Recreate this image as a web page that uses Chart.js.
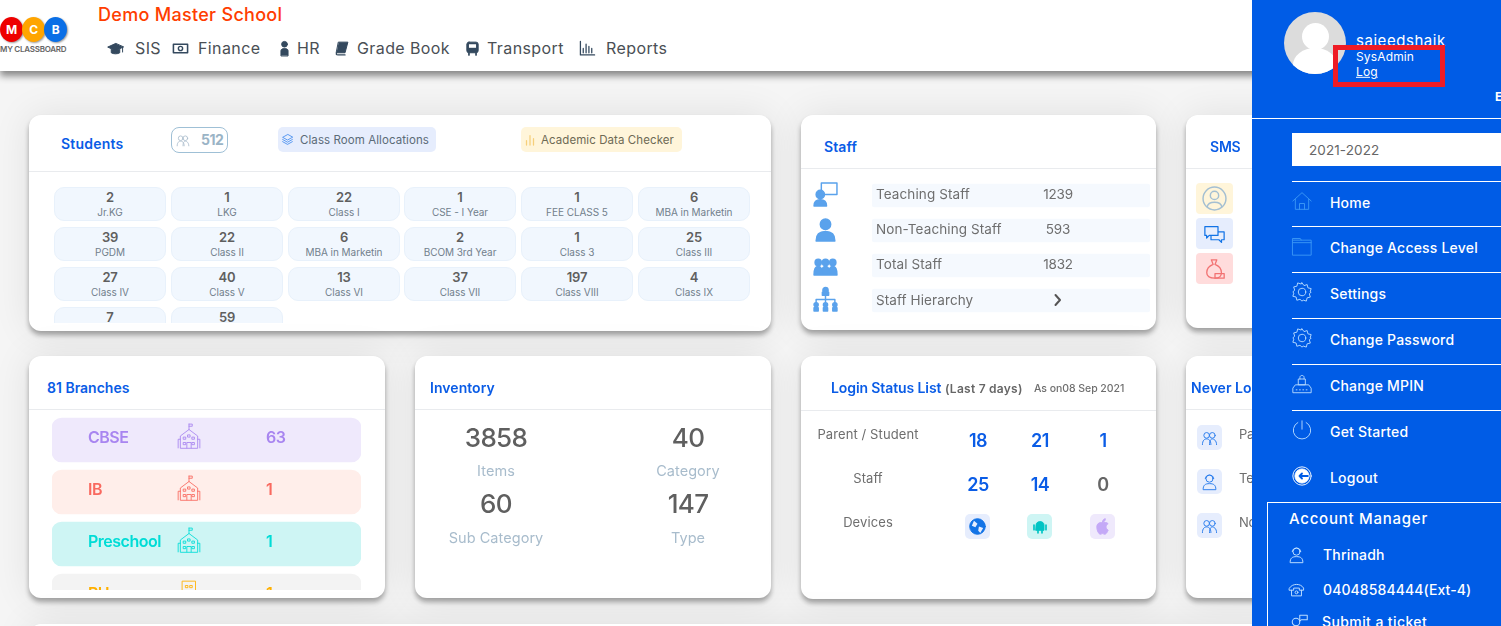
<!DOCTYPE html>
<html>
<head>
<meta charset="utf-8">
<title>Demo Master School</title>
<script src="https://cdn.jsdelivr.net/npm/chart.js@4"></script>
<style>
html,body{margin:0;padding:0;width:1501px;height:626px;overflow:hidden;background:#f5f5f5;font-family:Inter,"Noto Sans",sans-serif;color:#666}
#page{position:absolute;left:0;top:0;width:1501px;height:626px;overflow:hidden}
.box{position:absolute;box-sizing:border-box}
.card{position:absolute;box-sizing:border-box;background:#fff;border-radius:12px;box-shadow:0 4px 5px rgba(0,0,0,.32),0 0 38px rgba(0,0,0,.09)}
.t{position:absolute;white-space:nowrap;line-height:1;letter-spacing:-.2px}
.clip{position:absolute;overflow:hidden}
canvas{display:block}
svg{position:absolute;overflow:visible}
</style>
</head>
<body>
<div id="page"></div>
<script>
// datos del panel
const navLabels = ["SIS", "Finance", "HR", "Grade Book", "Transport", "Reports"];
const studentTotal = 512;
const classNames = ["Jr.KG", "LKG", "Class I", "CSE - I Year", "FEE CLASS 5", "MBA in Marketin",
  "PGDM", "Class II", "MBA in Marketin", "BCOM 3rd Year", "Class 3", "Class III",
  "Class IV", "Class V", "Class VI", "Class VII", "Class VIII", "Class IX", "", ""];
const classCounts = [2, 1, 22, 1, 1, 6, 39, 22, 6, 2, 1, 25, 27, 40, 13, 37, 197, 4, 7, 59];
const staffLabels = ["Teaching Staff", "Non-Teaching Staff", "Total Staff", "Staff Hierarchy"];
const staffCounts = [1239, 593, 1832];
const staffRows = [1, 1, 1, 1];
const branchNames = ["CBSE", "IB", "Preschool", "PU"];
const branchCounts = [63, 1, 1, 1];
const branchRows = [1, 1, 1, 1];
const inventoryLabels = ["Items", "Category", "Sub Category", "Type"];
const inventoryValues = [3858, 40, 60, 147];
const loginLabels = ["Parent / Student", "Staff", "Devices"];
const loginParents = [18, 21, 1];
const loginStaff = [25, 14, 0];
const neverLabels = ["Parent", "Teaching", "Non"];
const menuLabels = ["Home", "Change Access Level", "Settings", "Change Password", "Change MPIN", "Get Started", "Logout"];

// colores
const BLUE = "#0a5ce6";
const branchFill = ["#efe9fc", "#ffeeea", "#cef5f4", "#f3f3f3"];
const branchInk = ["#a885f0", "#f9695f", "#00dcd6", "#ffb000"];

const page = document.getElementById("page");

function box(x, y, w, h, css, parent) {
  const d = document.createElement("div");
  d.className = "box";
  d.style.cssText = `left:${x}px;top:${y}px;width:${w}px;height:${h}px;${css || ""}`;
  (parent || page).appendChild(d);
  return d;
}

// texto centrado en vertical sobre y; center=true tambien lo centra en x
function txt(x, y, s, css, center, parent) {
  const d = document.createElement("div");
  d.className = "t";
  d.textContent = s;
  d.style.cssText = `left:${x}px;top:${y}px;transform:translate(${center ? "-50%" : "0"},-50%);${css || ""}`;
  (parent || page).appendChild(d);
  return d;
}

function card(x, y, w, h, ruleY) {
  const c = document.createElement("div");
  c.className = "card";
  c.style.cssText = `left:${x}px;top:${y}px;width:${w}px;height:${h}px`;
  page.appendChild(c);
  if (ruleY) box(x, ruleY, w, 1, "background:#e9ebee");
}

function icon(x, y, size, color, inner, parent, weight) {
  const holder = parent || page;
  holder.insertAdjacentHTML("beforeend",
    `<svg style="left:${x}px;top:${y}px" width="${size}" height="${size}" viewBox="0 0 24 24" fill="none" stroke="${color}" stroke-width="${weight || 1.4}" stroke-linejoin="round" stroke-linecap="round">${inner}</svg>`);
}

const ICONS = {
  cap: '<path d="M12 5 1 10l11 5 11-5z" fill="#34495e" stroke="#34495e"/><path d="M6 13v5c3 2 9 2 12 0v-5" fill="#34495e"/><path d="M22 10v7"/>',
  money: '<rect x="2" y="6" width="20" height="12" stroke-width="2.2"/><circle cx="12" cy="12" r="3" stroke-width="2"/>',
  person: '<circle cx="12" cy="6" r="4" fill="#34495e"/><path d="M7 22v-7c0-4 10-4 10 0v7z" fill="#34495e"/>',
  book: '<path d="M8 3h13l-4 15H5z" fill="#34495e"/><path d="M5 18c-1 3 0 3 2 3h10" stroke-width="1.8"/>',
  bus: '<rect x="4" y="3" width="16" height="15" rx="3" fill="#34495e"/><rect x="7" y="6" width="10" height="5" fill="#fff" stroke="none"/><path d="M7 18v3M17 18v3" stroke-width="2.4"/>',
  bars: '<path d="M2 2v19h20M6 18v-6M10 18V6M14 18V9M18 18v-6" stroke-width="1.8"/>',
  school: '<path d="M12 1v5M12 1h3v2h-3M4 23V12l8-6 8 6v11zM2 23V15h2M22 23v-8h-2M10 23v-5h4v5M7 13h2v2H7zM15 13h2v2h-2zM7 18h2v2H7zM15 18h2v2h-2zM11 11h2v2h-2z"/>',
  tower: '<path d="M6 2h12v18H6zM9 6h2v2H9zM13 6h2v2h-2zM9 11h2v2H9zM13 11h2v2h-2z"/>',
  home: '<path d="M1 12 12 2l11 10M4 10v12h16V10M9 22v-7h6v7"/>',
  folder: '<path d="M1 3h9l1 2h12v18H1zM1 5h10M1 8h22"/>',
  gear: '<circle cx="12" cy="12" r="4.5"/><path d="M12 1l2.4 3.3 3.8-1.2.9 3.9 3.9.9-1.2 3.8L23 12l-2.2 2.3 1.2 3.8-3.9.9-.9 3.9-3.8-1.2L12 23l-2.4-2.3-3.8 1.2-.9-3.9-3.9-.9 1.2-3.8L1 12l2.2-2.3L2 5.9 5.9 5l.9-3.9 3.8 1.2z"/>',
  lock: '<rect x="8" y="6" width="8" height="7"/><path d="M9.5 6V4c0-3 5-3 5 0v2M1 22v-5l3-4h16l3 4v5zM5 19h1M9 19h1M13 19h1M17 19h1"/>',
  power: '<path d="M12 1v10"/><path d="M7 3a10.5 10.5 0 1 0 10 0"/>',
  logout: '<circle cx="12" cy="12" r="11"/><circle cx="12" cy="12" r="8.5" fill="#fff"/><path d="M9 12h10M12 9l-3 3 3 3" stroke="#005ce6" stroke-width="2.2"/>',
  agent: '<circle cx="12" cy="8" r="5"/><path d="M3 23c0-6 3-8 9-8s9 2 9 8z"/><path d="M6 8c0-7 12-7 12 0"/>',
  phone: '<path d="M2 10c4-7 16-7 20 0v3h-6v-3H8v3H2z"/><path d="M5 13v8h14v-8"/><circle cx="12" cy="16" r="2"/>',
  ticket: '<circle cx="8" cy="12" r="5"/><path d="M2 23c0-4 3-6 6-6s6 2 6 6M13 3h10v6H15l-2 2z"/>',
  users: '<circle cx="8" cy="9" r="4"/><circle cx="16" cy="9" r="4"/><path d="M2 22c0-6 3-8 6-8s6 2 6 8M12 22c0-6 2-8 4-8s6 2 6 8"/>',
  teacher: '<rect x="8" y="1" width="15" height="11"/><circle cx="7" cy="12" r="4" fill="#5aa2ec"/><path d="M1 23c0-5 3-6 6-6s6 1 6 6z" fill="#5aa2ec"/>',
  solid: '<circle cx="12" cy="7" r="5" fill="#5aa2ec"/><path d="M3 23c0-7 4-9 9-9s9 2 9 9z" fill="#5aa2ec"/>',
  group: '<g fill="#5aa2ec"><circle cx="5" cy="10" r="3"/><circle cx="12" cy="10" r="3"/><circle cx="19" cy="10" r="3"/><path d="M1 22c0-6 1-8 4-8s4 2 4 8zM8 22c0-6 1-8 4-8s4 2 4 8zM15 22c0-6 1-8 4-8s4 2 4 8z"/></g>',
  tree: '<g fill="#5aa2ec"><circle cx="12" cy="3" r="2.5"/><rect x="9" y="5" width="6" height="3"/><circle cx="3" cy="17" r="2"/><circle cx="12" cy="17" r="2"/><circle cx="21" cy="17" r="2"/><rect x="1" y="20" width="4" height="3"/><rect x="10" y="20" width="4" height="3"/><rect x="19" y="20" width="4" height="3"/></g><path d="M12 8v7M3 12h18M3 12v3M21 12v3"/>'
};

// encabezado
box(0, 0, 1501, 71, "background:#fff;box-shadow:0 5px 7px rgba(0,0,0,.45)");
const logoColors = ["#ee0000", "#ffa500", "#0a6fe6"];
["M", "C", "B"].forEach((l, i) => {
  box(i * 22, 17, 23, 25, `background:${logoColors[i]};border-radius:50%;box-shadow:1px 1px 2px rgba(0,0,0,.4)`);
  txt(11.5 + i * 22, 30, l, "color:#fff;font-size:12px;font-weight:700", true);
});
txt(0, 49, "MY CLASSBOARD", "color:#666;font-size:8px;font-weight:600;letter-spacing:-.25px");
txt(98, 15, "Demo Master School", "color:#ff3d00;font-size:18px;font-weight:500;letter-spacing:.3px");
const navText = [135, 198, 297, 357, 487, 606];
const navIcons = [[107, "cap"], [172, "money"], [276, "person"], [333, "book"], [464, "bus"], [579, "bars"]];
navLabels.forEach((l, i) => {
  txt(navText[i], 48, l, "color:#4a4f55;font-size:16px;letter-spacing:.4px");
  icon(navIcons[i][0], 40, 17, "#34495e", ICONS[navIcons[i][1]]);
});

// tarjeta de alumnos
card(29, 115, 742, 216, 171);
txt(61, 144, "Students", `color:${BLUE};font-size:14px;font-weight:600;letter-spacing:.2px`);
box(171, 127, 57, 26, "border:1px solid #9fc0d6;border-radius:8px");
icon(176, 133, 14, "#a9bccb", ICONS.users);
txt(201, 140, String(studentTotal), "color:#9ab4c6;font-size:14px;font-weight:700;letter-spacing:-.5px");
box(278, 127, 158, 25, "background:#e6edfd;border-radius:5px");
icon(281, 133, 13, "#2f80ed", '<path d="M12 3 3 8l9 5 9-5zM3 12l9 5 9-5M3 16l9 5 9-5"/>');
txt(300, 141, "Class Room Allocations", "color:#5b6b78;font-size:11.5px;letter-spacing:.08px");
box(521, 127, 161, 25, "background:#fff5da;border-radius:5px");
icon(524, 134, 12, "#f6cf7a", '<path d="M5 22V13M12 22V3M19 22V9" stroke-width="2.5"/>');
txt(541, 141, "Academic Data Checker", "color:#6e6a55;font-size:11.5px;letter-spacing:.08px");

const tileX = [54, 171, 288, 404, 521, 638];
const tileClip = document.createElement("div");
tileClip.className = "clip";
tileClip.style.cssText = "left:0;top:0;width:771px;height:323px";
page.appendChild(tileClip);
classCounts.forEach((n, i) => {
  const x = tileX[i % 6], y = 187 + 40 * Math.floor(i / 6);
  box(x, y, 112, 34, "background:#f1f7fe;border:1px solid #e8f1fb;border-radius:10px", tileClip);
  txt(x + 56, y + 10, String(n), "color:#5f5f5f;font-size:13px;font-weight:600", true, tileClip);
  txt(x + 56, y + 25, classNames[i], "color:#71808c;font-size:10px;letter-spacing:-.05px", true, tileClip);
});

// tarjeta de personal
card(801, 115, 355, 215, 168);
txt(824, 147, "Staff", `color:${BLUE};font-size:14px;font-weight:600;letter-spacing:.1px`);
const staffWrap = document.createElement("div");
staffWrap.className = "clip";
staffWrap.style.cssText = "left:872px;top:178px;width:278px;height:140px";
staffWrap.innerHTML = '<canvas id="staffChart" width="278" height="140"></canvas>';
page.appendChild(staffWrap);
const staffIcons = ["teacher", "solid", "group", "tree"];
staffLabels.forEach((l, i) => {
  const y = 195 + 35 * i;
  txt(876, y + (i === 3 ? 1 : 0), l, "color:#6e6e6e;font-size:13.5px;letter-spacing:.1px");
  icon(813, y - 13, 25, "#5aa2ec", ICONS[staffIcons[i]]);
  if (i < 3) txt(1058, y, String(staffCounts[i]), "color:#6e6e6e;font-size:13.5px", true);
});
icon(1052, 294, 12, "#555", '<path d="M7 2l9 10-9 10" stroke-width="4"/>');

// tarjeta SMS
card(1186, 115, 120, 213, 168);
txt(1210, 147, "SMS", `color:${BLUE};font-size:14px;font-weight:600;letter-spacing:-.2px`);
box(1196, 183, 37, 31, "background:#fff5da;border-radius:4px");
box(1196, 218, 37, 31, "background:#e6edfd;border-radius:4px");
box(1196, 253, 37, 31, "background:#ffdcdc;border-radius:4px");
icon(1202, 186, 25, "#a4bfd2", '<circle cx="12" cy="12" r="11"/><circle cx="12" cy="9" r="4"/><path d="M5 20c1-6 13-6 14 0"/>');
icon(1204, 224, 21, "#1273e6", '<path d="M1 3h15v10H6l-3 3v-3H1zM8 13v5h9l3 3v-3h3V9h-7"/>');
icon(1204, 258, 22, "#f27373", '<path d="M8 2h6l-2 5c5 2 7 6 7 9 0 4-3 6-7 6s-9-1-9-6c0-3 2-7 7-9z"/><path d="M12 17h10v5H12z"/>');

// tarjeta de sucursales
card(29, 356, 356, 242, 409);
txt(47, 388, "81 Branches", `color:${BLUE};font-size:14px;font-weight:600;letter-spacing:0`);
const branchWrap = document.createElement("div");
branchWrap.className = "clip";
branchWrap.style.cssText = "left:52px;top:414px;width:309px;height:176px";
branchWrap.innerHTML = '<canvas id="branchChart" width="309" height="208"></canvas>';
page.appendChild(branchWrap);
const branchClip = document.createElement("div");
branchClip.className = "clip";
branchClip.style.cssText = "left:0;top:0;width:400px;height:590px";
page.appendChild(branchClip);
branchNames.forEach((n, i) => {
  const y = 437 + 52 * i;
  txt(88, y, n, `color:${branchInk[i]};font-size:16px;font-weight:600;letter-spacing:-.5px`, false, branchClip);
  txt(266, y, String(branchCounts[i]), `color:${branchInk[i]};font-size:16px;font-weight:600;letter-spacing:-.5px`, false, branchClip);
  icon(176, y - 14, 26, branchInk[i], i === 3 ? ICONS.tower : ICONS.school, branchClip, 0.8);
});

// tarjeta de inventario
card(415, 356, 356, 242, 409);
txt(430, 388, "Inventory", `color:${BLUE};font-size:14px;font-weight:600;letter-spacing:.05px`);
const invX = [496, 688, 496, 688];
const invY = [438, 438, 504, 504];
inventoryValues.forEach((v, i) => {
  txt(invX[i], invY[i], String(v), "color:#5f5f5f;font-size:26px;font-weight:500;letter-spacing:-.7px", true);
  txt(invX[i], invY[i] + 33 + (i > 1 ? 1 : 0), inventoryLabels[i], "color:#a8bccc;font-size:14.5px;letter-spacing:.05px", true);
});

// tarjeta de accesos
card(801, 356, 355, 243, 410);
txt(831, 388, "Login Status List", `color:${BLUE};font-size:14px;font-weight:600;letter-spacing:-.1px`);
txt(945, 389, "(Last 7 days)", "color:#666;font-size:12px;font-weight:600;letter-spacing:.25px");
txt(1034, 389, "As on08 Sep 2021", "color:#6e6e6e;font-size:10.5px;font-weight:500;letter-spacing:-.05px");
loginLabels.forEach((l, i) => txt(868, 434 + 44 * i, l, "color:#6e6e6e;font-size:13px;letter-spacing:.1px", true));
const loginX = [978, 1040, 1103];
loginParents.forEach((n, i) => txt(loginX[i], 441, String(n), `color:${BLUE};font-size:18px;font-weight:600;letter-spacing:-.5px`, true));
loginStaff.forEach((n, i) => txt(loginX[i], 485, String(n), `color:${n === 0 ? "#666" : BLUE};font-size:18px;font-weight:600;letter-spacing:-.5px`, true));
const deviceFill = ["#e6edfd", "#cef5f4", "#efe9fc"];
deviceFill.forEach((f, i) => box(loginX[i] - 13, 514, 25, 25, `background:${f};border-radius:5px`));
icon(969, 518, 17, "#1273e6", '<circle cx="12" cy="12" r="11" fill="#1273e6"/><path d="M7 4l5 4-3 5-5-2zM14 12l6 2-4 7-3-3z" fill="#e6edfd" stroke="none"/>');
icon(1032, 519, 16, "#00c4c4", '<path d="M6 9c0-7 12-7 12 0v8H6z" fill="#00c4c4"/><path d="M3 9v7M21 9v7M9 17v4M15 17v4" stroke-width="2.5"/>');
icon(1094, 518, 17, "#c4a9f7", '<path d="M12 7c-2-1-8-1-8 6 0 5 3 10 5 10 1 0 2-1 3-1s2 1 3 1c2 0 4-3 5-6-4-2-4-7 0-9-2-2-5-2-8-1zM12 6c0-3 2-5 4-5 0 3-2 5-4 5z" fill="#c4a9f7"/>');

// tarjeta nunca conectados
card(1186, 356, 120, 242, 409);
txt(1191, 388, "Never Logged In", `color:${BLUE};font-size:14px;font-weight:600;letter-spacing:0`);
neverLabels.forEach((l, i) => {
  const y = 425 + 44 * i;
  box(1197, y, 25, 25, "background:#e6edfd;border-radius:5px");
  icon(1201, y + 4, 17, "#2f80ed", i === 1 ? ICONS.agent : ICONS.users);
  txt(1239, y + 9, l, "color:#6e6e6e;font-size:13px");
});

// tarjeta inferior, casi fuera de la ventana
card(29, 624, 1260, 100);

// barra lateral
box(1252, 0, 249, 626, "background:#005ce6");
const avatar = box(1284, 12, 62, 62, "background:#dcdcdc;border-radius:50%;overflow:hidden");
box(18, 11, 27, 27, "background:#fff;border-radius:50%", avatar);
box(9, 36, 44, 34, "background:#fff;border-radius:50%", avatar);
txt(1356, 40, "saieedshaik", "color:#fff;font-size:15px;letter-spacing:.55px");
txt(1356, 57, "SysAdmin", "color:#fff;font-size:12px;letter-spacing:.15px");
txt(1356, 72, "Log", "color:#fff;font-size:12px;text-decoration:underline;line-height:1.2;letter-spacing:.1px");
box(1333, 45, 112, 42, "border:5px solid #ee1c25");
txt(1495, 97, "E", "color:#fff;font-size:12px;font-weight:700");
box(1252, 118, 249, 1, "background:#fff");
box(1292, 133, 209, 33, "background:#fff");
txt(1309, 151, "2021-2022", "color:#666;font-size:13.5px;letter-spacing:.1px");
const menuIcons = ["home", "folder", "gear", "gear", "lock", "power", "logout"];
menuLabels.forEach((l, i) => {
  const y = [203, 248, 294, 340, 386, 432, 478][i];
  txt(1330, y, l, "color:#fff;font-size:14px;font-weight:500;letter-spacing:.2px");
  const ink = i === 6 ? "#fff" : i < 2 ? "#3c98f5" : "#b9dcff";
  icon(1292, y - 12, 20, ink, ICONS[menuIcons[i]], null, 1.1);
  if (i < 6) box(1292, [181, 226, 272, 318, 364, 410][i], 209, 1, "background:#fff");
});
box(1267, 502, 260, 200, "border:1px solid #fff");
txt(1289, 518, "Account Manager", "color:#fff;font-size:15px;font-weight:500;letter-spacing:.75px");
icon(1288, 546, 17, "#b9dcff", ICONS.agent);
txt(1323, 555, "Thrinadh", "color:#fff;font-size:14px;font-weight:500;letter-spacing:.2px");
icon(1288, 581, 17, "#b9dcff", ICONS.phone);
txt(1323, 590, "04048584444(Ext-4)", "color:#fff;font-size:14px;font-weight:500;letter-spacing:.1px");
icon(1290, 613, 18, "#b9dcff", ICONS.ticket);
txt(1322, 622, "Submit a ticket", "color:#fff;font-size:14px;font-weight:500;letter-spacing:.4px");

// graficos: filas de sucursales y de personal como barras horizontales
function rowChart(id, labels, values, fills, thickness, radius) {
  return new Chart(document.getElementById(id), {
    type: "bar",
    data: {
      labels: labels,
      datasets: [{
        data: values,
        backgroundColor: fills,
        barThickness: thickness,
        borderRadius: radius,
        borderSkipped: false
      }]
    },
    options: {
      indexAxis: "y",
      responsive: false,
      animation: false,
      devicePixelRatio: 1,
      layout: { padding: 0 },
      plugins: { legend: { display: false }, tooltip: { enabled: false } },
      scales: {
        x: { display: false, min: 0, max: 1 },
        y: { display: false }
      }
    }
  });
}
rowChart("branchChart", branchNames, branchRows, branchFill, 44, 10);
rowChart("staffChart", staffLabels, staffRows, "#f5f9fe", 23, 3);
</script>
</body>
</html>
